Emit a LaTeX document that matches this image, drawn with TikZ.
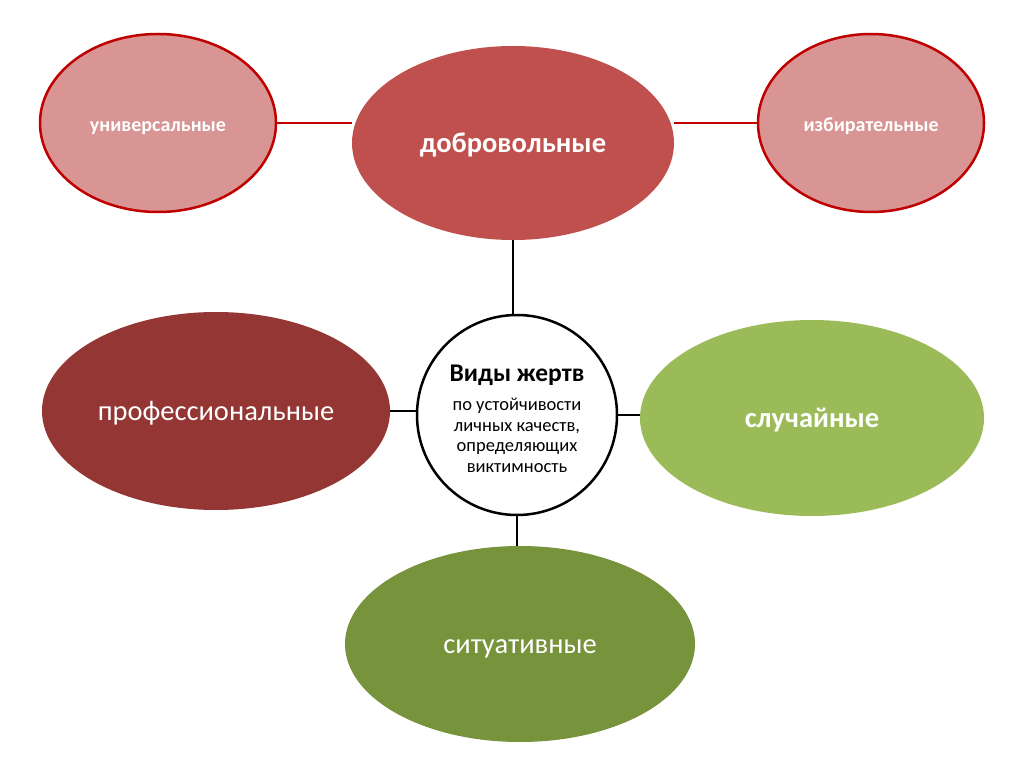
\documentclass[tikz,border=0pt]{standalone}
\usepackage{fontspec}
\setmainfont{Carlito}
\usetikzlibrary{shapes.geometric}

\definecolor{rosefill}{HTML}{D99594}
\definecolor{rosedraw}{HTML}{C00000}
\definecolor{redfill}{HTML}{C0504D}
\definecolor{darkredfill}{HTML}{943634}
\definecolor{lightgreen}{HTML}{9BBB59}
\definecolor{darkgreen}{HTML}{77933C}

\tikzset{
  kind/.style={ellipse, inner sep=0pt, text=white,
    text height=20.5pt, text depth=1.1pt},
  sidekind/.style={kind, fill=rosefill, draw=rosedraw, line width=2.5pt,
    text height=18.4pt, text depth=1pt,
    font=\bfseries\fontsize{20}{24}\selectfont},
  redlink/.style={draw=rosedraw, line width=1.2pt},
  blacklink/.style={draw=black, line width=2.5pt}
}

\begin{document}
\begin{tikzpicture}[x=1pt,y=-1pt]
  \useasboundingbox (0,0) rectangle (1024,767);

  % Upper row
  \node[sidekind, minimum width=236pt, minimum height=178pt] (univ) at (158,123) {универсальные};
  \node[kind, fill=redfill, minimum width=322pt, minimum height=194pt,
    font=\bfseries\fontsize{28.5}{32}\selectfont] (dobr) at (513,143) {добровольные};
  \node[sidekind, minimum width=226pt, minimum height=178pt] (izbir) at (871,123) {избирательные};

  % Middle row
  \node[kind, fill=darkredfill, minimum width=348pt, minimum height=198pt,
    font=\fontsize{28.5}{32}\selectfont] (prof) at (216,411) {профессиональные};
  \node[circle, draw=black, line width=2.5pt, fill=white, minimum size=200pt, inner sep=0pt,
    align=center, font=\fontsize{18.5}{20.5}\selectfont] (vidy) at (517,415)
    {\bfseries\fontsize{25.5}{28}\selectfont\rule{0pt}{24pt}Виды жертв\\[9pt]
     \mdseries\fontsize{18.5}{20.5}\selectfont по устойчивости\\ личных качеств,\\ определяющих\\ виктимность};
  \node[kind, fill=lightgreen, minimum width=344pt, minimum height=196pt,
    font=\bfseries\fontsize{28.5}{32}\selectfont] (sluch) at (812,418) {случайные};

  % Lower row
  \node[kind, fill=darkgreen, minimum width=350pt, minimum height=196pt,
    font=\fontsize{28.5}{32}\selectfont] (sit) at (520,644) {ситуативные};

  % Draw the links
  \draw[redlink] (univ.east) -- (univ.east -| dobr.west);
  \draw[redlink] (izbir.west -| dobr.east) -- (izbir.west);
  \draw[blacklink] (dobr.south) -- (dobr.south |- vidy.north);
  \draw[blacklink] (prof.east) -- (prof.east -| vidy.west);
  \draw[blacklink] (vidy.east) -- (vidy.east -| sluch.west);
  \draw[blacklink] (vidy.south) -- (vidy.south |- sit.north);
\end{tikzpicture}
\end{document}
